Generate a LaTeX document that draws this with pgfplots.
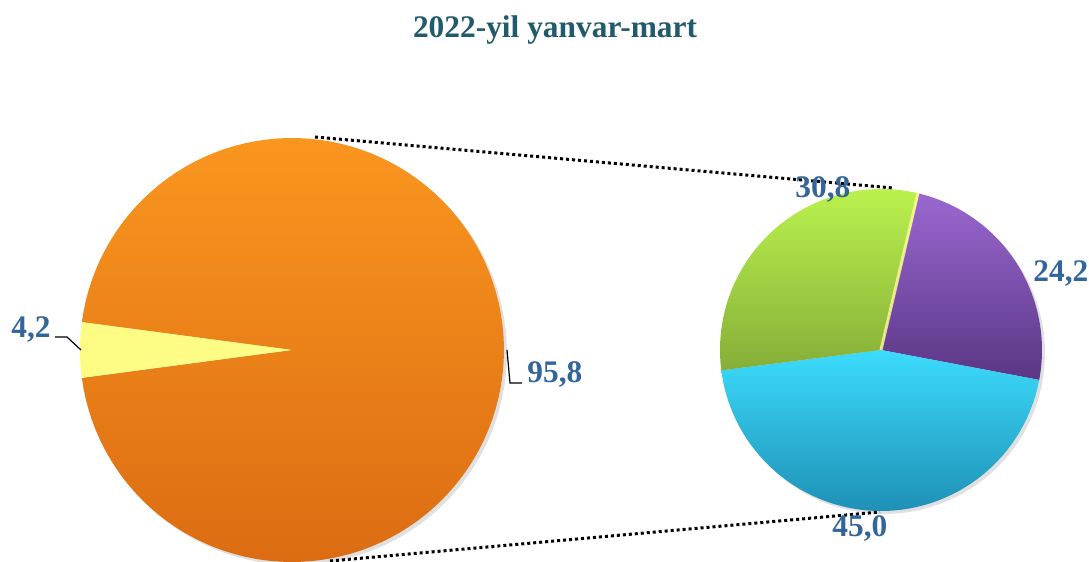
\documentclass[border=0pt]{standalone}
\usepackage{pgfplots}
\pgfplotsset{compat=1.18}
\usepackage{fontspec}
\setmainfont{Liberation Serif}

\definecolor{titleteal}{HTML}{215A6A}
\definecolor{lblblue}{HTML}{34659A}
\definecolor{orTop}{HTML}{F9961F}
\definecolor{orMid}{HTML}{F48E1C}
\definecolor{orBot}{HTML}{DC6C12}
\definecolor{yel}{HTML}{FDFD86}
\definecolor{grTop}{HTML}{BAF24E}
\definecolor{grBot}{HTML}{86AE38}
\definecolor{puTop}{HTML}{9A68D0}
\definecolor{puBot}{HTML}{5A3685}
\definecolor{blTop}{HTML}{3CDCFC}
\definecolor{blBot}{HTML}{1E90B6}

% shares (percent)
\def\vOther{95.8}
\def\vSmall{4.2}
\def\vPurple{24.2}
\def\vBlue{45.0}
\def\vGreen{30.8}

% slice angles
\pgfmathsetmacro\yA{180-\vSmall*1.8}
\pgfmathsetmacro\yB{180+\vSmall*1.8}
\pgfmathsetmacro\oB{\yB+\vOther*3.6}
\def\rs{76.4}
\pgfmathsetmacro\pe{\rs-\vPurple*3.6}
\pgfmathsetmacro\be{\pe-\vBlue*3.6}
\pgfmathsetmacro\ge{\be-\vGreen*3.6}

\newcommand{\lbl}{\fontsize{15.7}{18}\selectfont\bfseries\color{lblblue}}

\begin{document}
\begin{tikzpicture}
\begin{axis}[
    scale only axis,
    width=544.5pt,
    height=281pt,
    xmin=0, xmax=1089,
    ymin=0, ymax=562,
    hide axis,
    samples=120,
    variable=\t,
]
% soft shadows
\addplot[fill=black, opacity=0.12, draw=none, domain=0:360] ({295+212*cos(\t)},{209+212*sin(\t)});
\addplot[fill=black, opacity=0.12, draw=none, domain=0:360] ({884+161*cos(\t)},{209+161*sin(\t)});

% left pie
\addplot[top color=orTop, middle color=orMid, bottom color=orBot, draw=none, domain=\yB:\oB] ({292+212*cos(\t)},{212+212*sin(\t)}) -- (292,212) -- cycle;
\addplot[fill=yel, draw=none, domain=\yA:\yB] ({292+212*cos(\t)},{212+212*sin(\t)}) -- (292,212) -- cycle;

% right pie
\addplot[top color=puTop, bottom color=puBot, draw=none, domain=\pe:\rs] ({881+161*cos(\t)},{212+161*sin(\t)}) -- (881,212) -- cycle;
\addplot[top color=blTop, bottom color=blBot, draw=none, domain=\be:\pe] ({881+161*cos(\t)},{212+161*sin(\t)}) -- (881,212) -- cycle;
\addplot[top color=grTop, bottom color=grBot, draw=none, domain=\ge:\be] ({881+161*cos(\t)},{212+161*sin(\t)}) -- (881,212) -- cycle;
% light edge between green and purple
\addplot[white!60!yellow, line width=1.5pt, opacity=0.8] coordinates {(881,212) (918,369)};

% connector lines
\addplot[black, line width=1.5pt, dash pattern=on 1.5pt off 1.5pt] coordinates {(315,425) (893,374)};
\addplot[black, line width=1.5pt, dash pattern=on 1.5pt off 1.5pt] coordinates {(330,1) (880,50)};

% leader lines
\addplot[black, line width=0.6pt] coordinates {(55,225) (67,225) (81,212)};
\addplot[black, line width=0.6pt] coordinates {(507,212) (510,179) (522,179)};

% labels
\node[anchor=base west, inner sep=0pt] at (axis cs:11,224) {\lbl 4,2};
\node[anchor=base west, inner sep=0pt] at (axis cs:527,179) {\lbl 95,8};
\node[anchor=base west, inner sep=0pt] at (axis cs:795,364) {\lbl 30,8};
\node[anchor=base west, inner sep=0pt] at (axis cs:1033,280) {\lbl 24,2};
\node[anchor=base west, inner sep=0pt] at (axis cs:832,25) {\lbl 45,0};

\node[anchor=center, inner sep=0pt] at (axis cs:555,532) {\fontsize{15.7}{18}\selectfont\bfseries\color{titleteal}2022-yil yanvar-mart};
\end{axis}
\pgfresetboundingbox
\path (current axis.south west) rectangle (current axis.north east);
\end{tikzpicture}
\end{document}
